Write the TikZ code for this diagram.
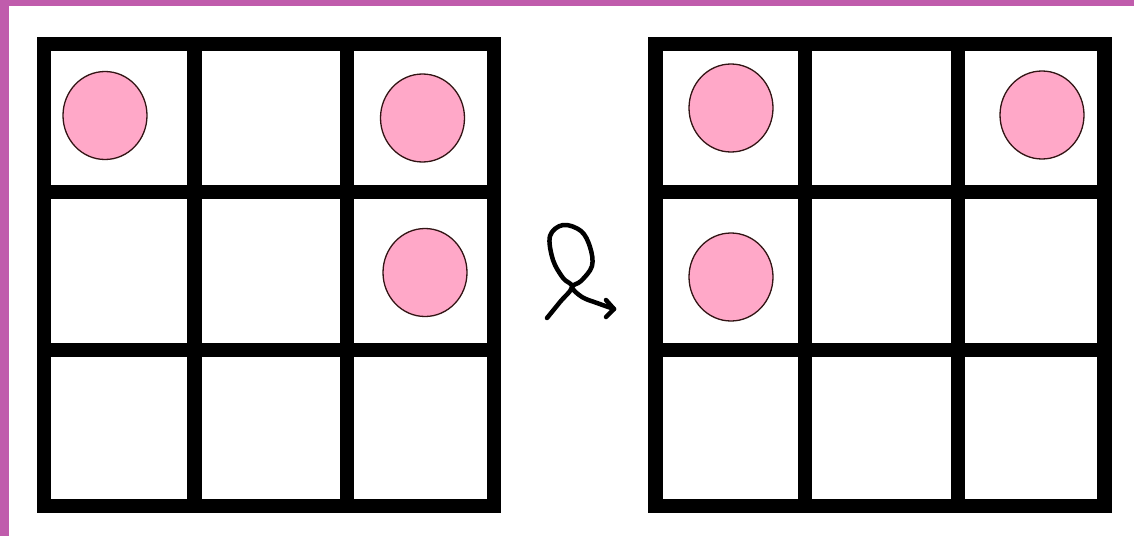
\documentclass[tikz,border=0pt]{standalone}
\usetikzlibrary{shapes.geometric}
\definecolor{framepink}{RGB}{192,92,172}
\definecolor{dotpink}{RGB}{255,168,200}
\definecolor{dotline}{RGB}{50,20,20}
\tikzset{
  gridline/.style={line width=14.5pt, line cap=butt, black},
  dot/.style={ellipse, draw=dotline, line width=1.3pt, fill=dotpink, minimum width=84pt, minimum height=88pt, inner sep=0pt},
  scrawl/.style={line width=4.5pt, line cap=round, line join=round, black}
}
\begin{document}
\begin{tikzpicture}[x=1pt,y=-1pt]
\useasboundingbox (0,0) rectangle (1134,536);
\fill[white] (0,0) rectangle (1134,536);
% frame bands
\fill[framepink] (0,0) rectangle (1134,6);
\fill[framepink] (0,0) rectangle (9,536);
% left grid
\draw[gridline] (44,44) rectangle (494,506);
\draw[gridline] (194.5,37) -- (194.5,513);
\draw[gridline] (347,37) -- (347,513);
\draw[gridline] (37,192) -- (501,192);
\draw[gridline] (37,350) -- (501,350);
% right grid
\draw[gridline] (655.5,44) rectangle (1104.5,506);
\draw[gridline] (805,37) -- (805,513);
\draw[gridline] (958,37) -- (958,513);
\draw[gridline] (648.5,192) -- (1111.5,192);
\draw[gridline] (648.5,350) -- (1111.5,350);
% dots, left
\node[dot] (l11) at (105,115.5) {};
\node[dot] (l13) at (422.5,118) {};
\node[dot] (l23) at (425,272.5) {};
% dots, right
\node[dot] (r11) at (731,108) {};
\node[dot] (r13) at (1042,115) {};
\node[dot] (r21) at (731,277) {};
% hand-drawn arrow
\draw[scrawl] plot[smooth, tension=0.6] coordinates {
  (547,318) (560,302) (572,287) (563,278) (553,260) (550,236)
  (563,225) (581,231) (590,247) (592,266) (581,281) (572,287)
  (582,297) (597,303) (614,309)};
\draw[scrawl] (606,300) -- (614,309) -- (606,317);
\end{tikzpicture}
\end{document}
